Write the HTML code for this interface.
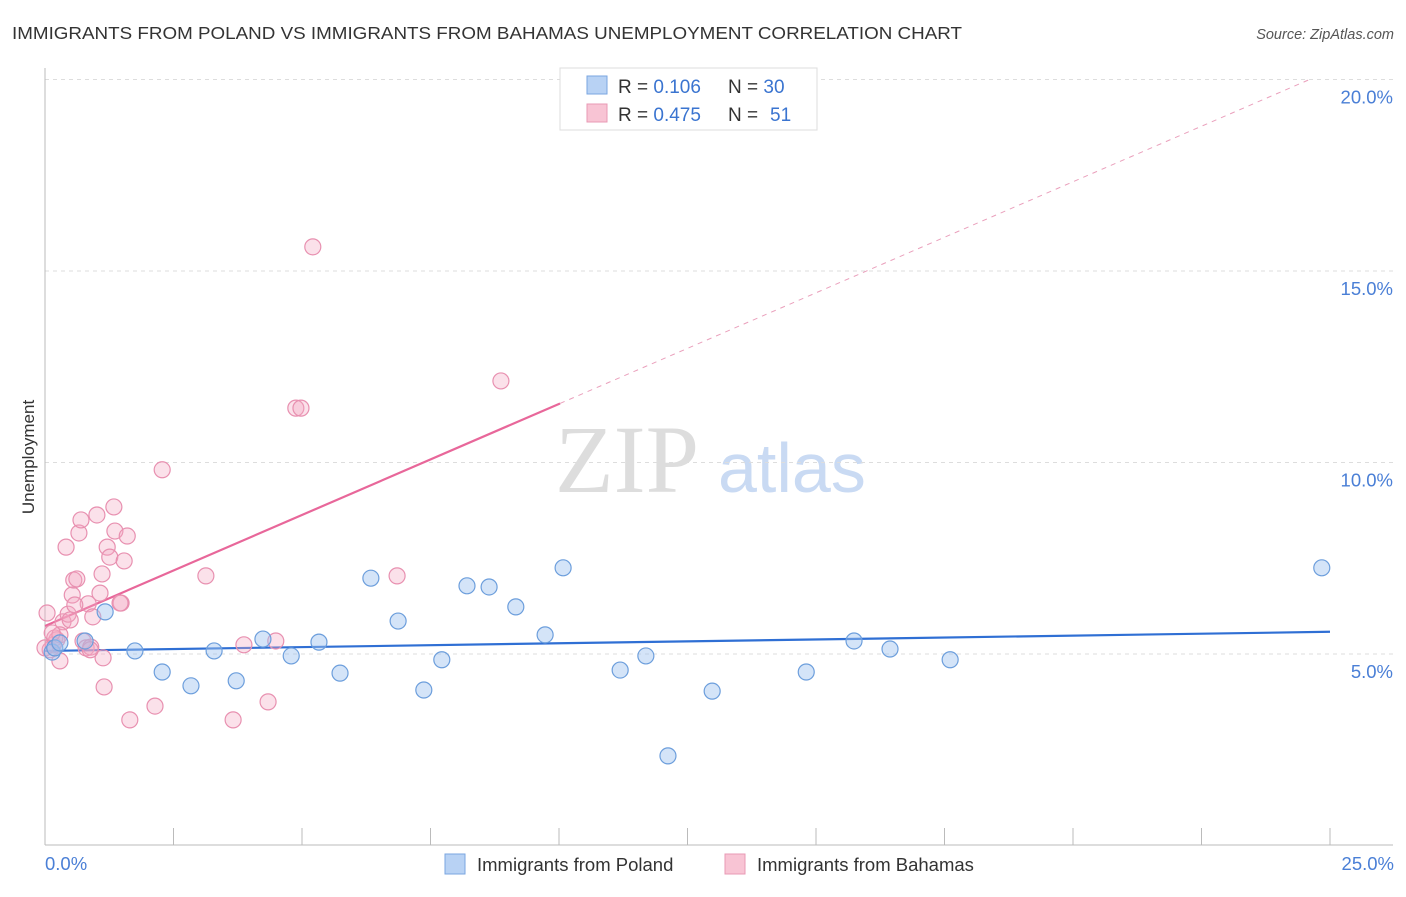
<!DOCTYPE html>
<html><head><meta charset="utf-8"><style>
body{margin:0;background:#fff;font-family:"Liberation Sans",sans-serif}
</style></head><body>
<svg width="1406" height="892" xmlns="http://www.w3.org/2000/svg" font-family="Liberation Sans, sans-serif">
<text x="12" y="39" font-size="17.5" fill="#333" textLength="950" lengthAdjust="spacingAndGlyphs">IMMIGRANTS FROM POLAND VS IMMIGRANTS FROM BAHAMAS UNEMPLOYMENT CORRELATION CHART</text>
<text x="1394" y="39" font-size="14.5" fill="#555" text-anchor="end" font-style="italic">Source: ZipAtlas.com</text>
<text x="555" y="492" font-size="96" fill="#ddd" font-family="Liberation Serif, serif">ZIP</text>
<text x="718" y="492" font-size="70" fill="#c9daf3">atlas</text>
<g id="grid"></g><g id="axes"></g><g id="lines"></g><g id="pts"></g>
<text transform="translate(34,457) rotate(-90)" font-size="17" fill="#333" text-anchor="middle">Unemployment</text>
<text x="45" y="870" font-size="18.5" fill="#4a7fd6">0.0%</text>
<text x="1394" y="870" font-size="18.5" fill="#4a7fd6" text-anchor="end">25.0%</text>
<g>
<rect x="560" y="68" width="257" height="62" fill="#fff" stroke="#ddd"/>
<rect x="587" y="76" width="20" height="18" fill="#b8d2f4" stroke="#7aa6e0"/>
<rect x="587" y="104" width="20" height="18" fill="#f8c4d4" stroke="#e89ab4"/>
<text x="618" y="93" font-size="19" fill="#333">R = <tspan fill="#3a74d0">0.106</tspan></text>
<text x="728" y="93" font-size="19" fill="#333">N = <tspan fill="#3a74d0">30</tspan></text>
<text x="618" y="121" font-size="19" fill="#333">R = <tspan fill="#3a74d0">0.475</tspan></text>
<text x="728" y="121" font-size="19" fill="#333">N = </text>
<text x="770" y="121" font-size="19" fill="#3a74d0">51</text>
</g>
<g>
<rect x="445" y="854" width="20" height="20" fill="#b8d2f4" stroke="#7aa6e0"/>
<text x="477" y="871" font-size="18.5" fill="#333">Immigrants from Poland</text>
<rect x="725" y="854" width="20" height="20" fill="#f8c4d4" stroke="#e89ab4"/>
<text x="757" y="871" font-size="18.5" fill="#333">Immigrants from Bahamas</text>
</g>
</svg>
<script>
const yTicks=[5,10,15,20];
const yTickLabels=["5.0%","10.0%","15.0%","20.0%"];
const xTicks=[0,2.5,5,7.5,10,12.5,15,17.5,20,22.5,25];
const polandX=[0.14,0.19,0.29,0.78,1.17,1.75,2.28,2.84,3.29,3.72,4.24,4.79,5.33,5.74,6.34,6.87,7.37,7.72,8.21,8.64,9.16,9.73,10.08,11.19,11.69,12.12,12.98,14.81,15.74,16.44,17.61,24.84];
const polandY=[5.05,5.16,5.29,5.34,6.10,5.08,4.53,4.17,5.08,4.30,5.39,4.95,5.31,4.50,6.98,5.86,4.06,4.85,6.78,6.75,6.23,5.50,7.25,4.58,4.95,2.34,4.03,4.53,5.34,5.13,4.85,7.25];
const bahamasX=[0.04,0.10,0.16,0.23,0.29,0.35,0.41,0.45,0.49,0.53,0.56,0.62,0.66,0.70,0.74,0.80,0.84,0.89,0.93,1.01,1.07,1.11,1.13,1.15,1.21,1.26,1.34,1.36,1.48,1.54,1.60,1.65,2.14,2.28,3.13,3.66,3.87,4.34,4.49,4.88,4.98,5.21,6.85,8.87,0,0.19,0.29,0.58,0.88,1.46,0.14];
const bahamasY=[6.07,5.11,5.24,5.37,4.82,5.84,7.79,6.04,5.89,6.54,6.93,6.96,8.16,8.50,5.34,5.16,6.31,5.18,5.97,8.63,6.59,7.09,4.90,4.14,7.79,7.53,8.84,8.21,6.33,7.43,8.08,3.28,3.64,9.81,7.04,3.28,5.24,3.75,5.34,11.42,11.42,15.63,7.04,12.13,5.16,5.42,5.50,6.28,5.11,6.33,5.55];
const polandTrend=[5.08,0.02];
const bahamasTrend=[5.73,0.58];
const NS="http://www.w3.org/2000/svg";
const sx=v=>45+v*51.4, sy=v=>845.5-v*38.3;
function mk(tag,attrs,parent){const e=document.createElementNS(NS,tag);for(const k in attrs)e.setAttribute(k,attrs[k]);document.getElementById(parent).appendChild(e);return e;}
yTicks.forEach((t,i)=>{
 const l=mk('line',{x1:45,x2:1393,y1:sy(t),y2:sy(t),stroke:'#ddd','stroke-dasharray':'4,4'},'grid');
 
 
 const tx=mk('text',{x:1393,y:sy(t)+24,'font-size':18.5,fill:'#4a7fd6','text-anchor':'end'},'grid');
 tx.textContent=yTickLabels[i];
 
 
});
const ax=mk('line',{x1:45,x2:1393,y1:845,y2:845,stroke:'#bbb'},'axes');


const ay=mk('line',{x1:45,x2:45,y1:68,y2:845,stroke:'#bbb'},'axes');


xTicks.forEach(t=>{
 const l=mk('line',{x1:sx(t),x2:sx(t),y1:828,y2:845,stroke:'#bbb'},'axes');
 
 
});
const pl=mk('line',{x1:sx(0),y1:sy(polandTrend[0]),x2:sx(25),y2:sy(polandTrend[0]+25*polandTrend[1]),stroke:'#2f6fd4','stroke-width':2.2},'lines');


const bx=10.02, bend=(20-bahamasTrend[0])/bahamasTrend[1];
const bl=mk('line',{x1:sx(0),y1:sy(bahamasTrend[0]),x2:sx(bx),y2:sy(bahamasTrend[0]+bx*bahamasTrend[1]),stroke:'#e8679a','stroke-width':2.2},'lines');


const bd=mk('line',{x1:sx(bx),y1:sy(bahamasTrend[0]+bx*bahamasTrend[1]),x2:sx(bend),y2:sy(20),stroke:'#eaa0bc','stroke-width':1,'stroke-dasharray':'5,5'},'lines');


bahamasX.forEach((x,i)=>{
 const c=mk('circle',{cx:sx(x),cy:sy(bahamasY[i]),r:8,fill:'rgba(244,170,196,0.35)',stroke:'#e890b0','stroke-width':1.2},'pts');
 
 
});
polandX.forEach((x,i)=>{
 const c=mk('circle',{cx:sx(x),cy:sy(polandY[i]),r:8,fill:'rgba(160,196,240,0.45)',stroke:'#6c9edc','stroke-width':1.2},'pts');
 
 
});
</script>
</body></html>
